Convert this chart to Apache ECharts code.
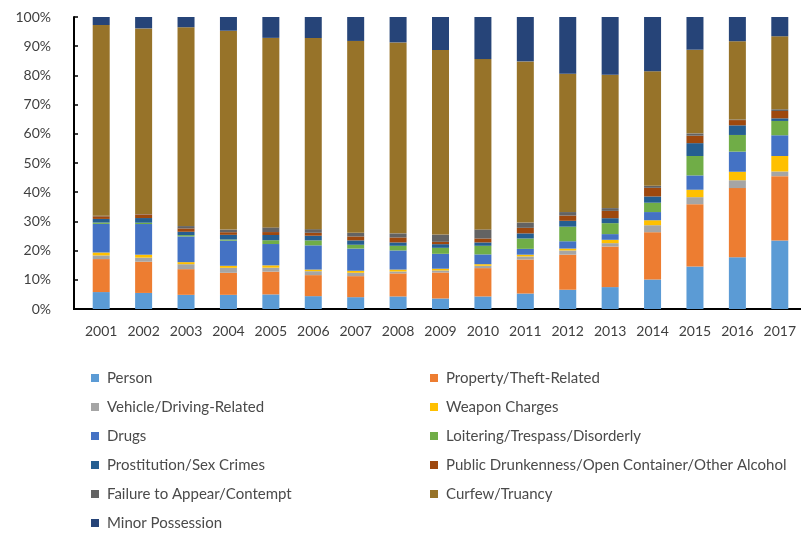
<!DOCTYPE html>
<html>
<head>
<meta charset="utf-8">
<style>
  html, body { margin: 0; padding: 0; background: #ffffff; }
  #chart { width: 801px; height: 536px; }
</style>
<script src="https://cdn.jsdelivr.net/npm/echarts@6/dist/echarts.min.js"></script>
</head>
<body>
<div id="chart"></div>
<script>
// Share of juvenile arrests by offence type, per year (percent of all arrests)
const years = ['2001', '2002', '2003', '2004', '2005', '2006', '2007', '2008', '2009',
               '2010', '2011', '2012', '2013', '2014', '2015', '2016', '2017'];

const person       = [5.8, 5.5, 4.85, 4.85, 5.0, 4.4, 4.05, 4.3, 3.6, 4.3, 5.3, 6.6, 7.5, 10.1, 14.55, 17.75, 23.5];
const property     = [11.3, 10.7, 8.8, 7.55, 7.8, 7.2, 7.2, 7.9, 8.9, 9.7, 11.65, 12.0, 13.9, 16.2, 21.35, 23.65, 22.0];
const vehicle      = [1.25, 1.4, 1.7, 1.7, 1.35, 1.35, 1.15, 0.65, 0.7, 0.8, 1.05, 1.45, 1.15, 2.4, 2.4, 2.7, 1.6];
const weapon       = [1.0, 1.0, 0.7, 0.7, 0.8, 0.55, 0.7, 0.65, 0.6, 0.55, 0.6, 0.65, 1.15, 1.7, 2.55, 2.9, 5.3];
const drugs        = [9.8, 10.5, 8.8, 8.6, 7.3, 8.3, 7.6, 6.55, 5.1, 3.35, 2.0, 2.5, 1.95, 2.8, 4.9, 6.9, 7.1];
const loitering    = [0.45, 0.45, 0.45, 0.4, 1.3, 1.7, 1.3, 1.6, 2.05, 2.95, 3.55, 5.0, 3.75, 3.2, 6.65, 5.7, 4.9];
const prostitution = [1.25, 1.6, 1.15, 1.6, 1.8, 1.6, 1.5, 1.15, 1.25, 1.15, 1.75, 2.0, 1.7, 2.15, 4.4, 3.3, 0.9];
const alcohol      = [0.9, 1.25, 1.15, 0.9, 1.0, 1.0, 1.35, 1.7, 0.8, 1.35, 1.9, 1.8, 2.5, 2.95, 2.55, 1.8, 2.5];
const failure      = [0.2, 0.1, 0.8, 0.9, 1.6, 1.25, 1.25, 1.4, 2.5, 3.1, 1.8, 1.2, 0.95, 0.7, 0.8, 0.2, 0.6];
const curfew       = [65.3, 63.6, 68.1, 68.1, 64.9, 65.45, 65.7, 65.4, 63.2, 58.35, 55.2, 47.4, 45.7, 39.2, 28.65, 26.8, 25.0];
const minor        = [2.75, 3.9, 3.5, 4.7, 7.15, 7.2, 8.2, 8.7, 11.3, 14.4, 15.2, 19.4, 19.75, 18.6, 11.2, 8.3, 6.6];

const seriesDefs = [
  { name: 'Person',                                         data: person,       color: '#5B9BD5' },
  { name: 'Property/Theft-Related',                         data: property,     color: '#ED7D31' },
  { name: 'Vehicle/Driving-Related',                        data: vehicle,      color: '#A5A5A5' },
  { name: 'Weapon Charges',                                 data: weapon,       color: '#FFC000' },
  { name: 'Drugs',                                          data: drugs,        color: '#4472C4' },
  { name: 'Loitering/Trespass/Disorderly',                  data: loitering,    color: '#70AD47' },
  { name: 'Prostitution/Sex Crimes',                        data: prostitution, color: '#255E91' },
  { name: 'Public Drunkenness/Open Container/Other Alcohol', data: alcohol,      color: '#9E480E' },
  { name: 'Failure to Appear/Contempt',                     data: failure,      color: '#636363' },
  { name: 'Curfew/Truancy',                                 data: curfew,       color: '#977329' },
  { name: 'Minor Possession',                               data: minor,        color: '#264478' }
];

const legendLeftCol  = [0, 2, 4, 6, 8, 10].map(i => seriesDefs[i].name);
const legendRightCol = [1, 3, 5, 7, 9].map(i => seriesDefs[i].name);

const FONT = 'Lato';
const legendCommon = {
  orient: 'vertical',
  icon: 'rect',
  itemWidth: 8,
  itemHeight: 8,
  itemGap: 9,
  height: 220,
  selectedMode: false,
  textStyle: {
    fontFamily: FONT,
    fontSize: 15,
    lineHeight: 20,
    color: '#4a4a4a',
    padding: [0, 0, 0, 3]
  }
};

const chart = echarts.init(document.getElementById('chart'), null, { renderer: 'canvas' });

chart.setOption({
  animation: false,
  backgroundColor: '#ffffff',
  grid: { left: 80, top: 17, width: 722.5, height: 292, containLabel: false },
  xAxis: {
    type: 'category',
    data: years,
    boundaryGap: true,
    axisLine: { show: true, lineStyle: { color: '#000000', width: 2 } },
    axisTick: { show: false },
    axisLabel: { fontFamily: FONT, fontSize: 14, color: '#3f3f3f', margin: 15 }
  },
  yAxis: {
    type: 'value',
    min: 0,
    max: 100,
    interval: 10,
    offset: 6,
    splitLine: { show: false },
    axisLine: { show: true, lineStyle: { color: '#000000', width: 2 } },
    axisTick: { show: true, inside: true, length: 4, lineStyle: { color: '#000000', width: 1.5 } },
    axisLabel: { fontFamily: FONT, fontSize: 14, color: '#3f3f3f', margin: 23, formatter: '{value}%' }
  },
  legend: [
    Object.assign({}, legendCommon, { left: 86, top: 363, data: legendLeftCol }),
    Object.assign({}, legendCommon, { left: 425, top: 363, data: legendRightCol })
  ],
  // short piece of baseline joining the x axis to the offset y axis
  graphic: [{
    type: 'rect',
    shape: { x: 73, y: 308, width: 8, height: 2 },
    style: { fill: '#000000' },
    silent: true
  }],
  series: seriesDefs.map(s => ({
    name: s.name,
    type: 'bar',
    stack: 'total',
    barWidth: 17,
    data: s.data,
    itemStyle: { color: s.color },
    emphasis: { disabled: true }
  }))
});
</script>
</body>
</html>
